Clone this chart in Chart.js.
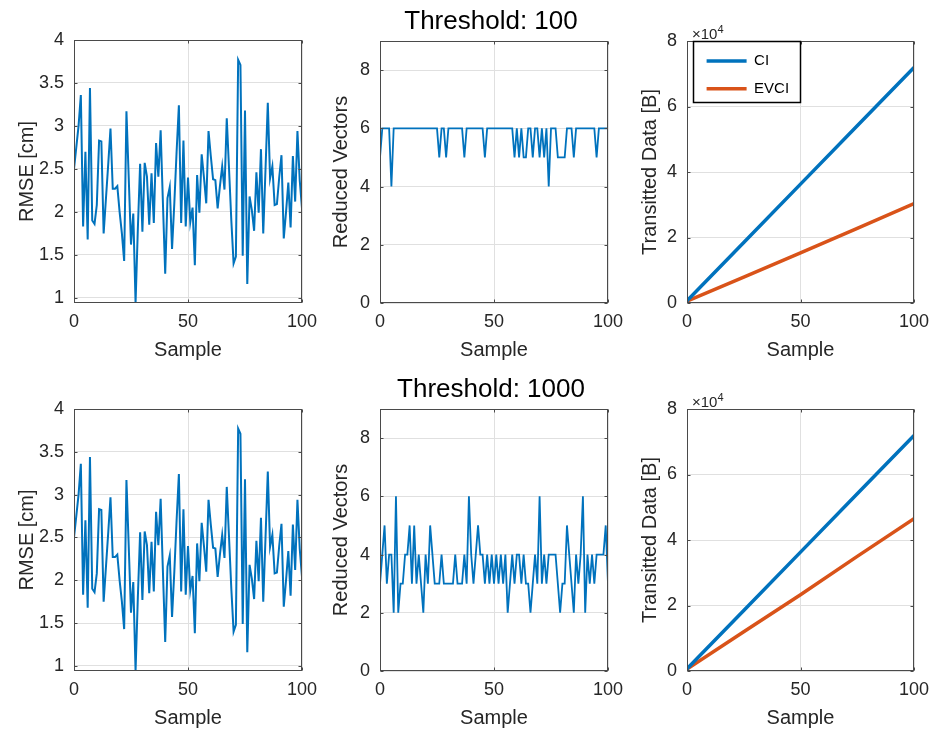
<!DOCTYPE html>
<html>
<head>
<meta charset="utf-8">
<script src="https://cdn.jsdelivr.net/npm/chart.js@4.4.0/dist/chart.umd.min.js"></script>
<style>
  body { margin: 0; background: #fff; }
  #wrap { position: relative; width: 932px; height: 733px; overflow: hidden;
          font-family: "Liberation Sans", Arial, Helvetica, sans-serif; }
  #wrap canvas { position: absolute; left: 0; top: 0; }
  .title { position: absolute; left: 341px; width: 300px; text-align: center;
           font-size: 26px; line-height: 30px; color: #000; }
  .expo { position: absolute; left: 692px; font-size: 15px; line-height: 18px; color: #262626; }
  .expo sup { font-size: 11px; }
</style>
</head>
<body>
<div id="wrap">
  <canvas id="rmseTop" width="932" height="733"></canvas>
  <canvas id="vecTop" width="932" height="733"></canvas>
  <canvas id="bytesTop" width="932" height="733"></canvas>
  <canvas id="rmseBottom" width="932" height="733"></canvas>
  <canvas id="vecBottom" width="932" height="733"></canvas>
  <canvas id="bytesBottom" width="932" height="733"></canvas>
  <div class="title" style="top:5px;">Threshold: 100</div>
  <div class="title" style="top:373px;">Threshold: 1000</div>
  <div class="expo" style="top:20px;">&times;10<sup>4</sup></div>
  <div class="expo" style="top:388px;">&times;10<sup>4</sup></div>
</div>
<script>
// tick labels
const sampleTicks = [0, 50, 100];
const rmseTicks = [1, 1.5, 2, 2.5, 3, 3.5, 4];
const vectorTicks = [0, 2, 4, 6, 8];
const bytesTicks = [0, 20000, 40000, 60000, 80000];

// RMSE per sample (same run in both rows)
const rmse = [
  2.50, 2.75, 3.00, 3.36, 1.83, 2.70, 1.68, 3.44, 1.90, 1.86,
  2.08, 2.83, 2.82, 1.75, 2.15, 2.55, 2.97, 2.27, 2.27, 2.30,
  2.00, 1.75, 1.43, 3.17, 2.40, 1.62, 1.98, 0.94, 1.80, 2.56,
  1.77, 2.57, 2.41, 1.85, 2.45, 1.87, 2.80, 2.41, 2.95, 2.10,
  1.28, 2.16, 2.29, 1.57, 2.10, 2.70, 3.24, 1.87, 2.83, 1.83,
  2.40, 1.88, 2.05, 1.38, 2.43, 1.99, 2.67, 2.40, 2.10, 2.94,
  2.65, 2.38, 2.37, 2.04, 2.30, 2.53, 2.26, 3.09, 2.50, 1.90,
  1.40, 1.48, 3.77, 3.71, 1.49, 3.18, 1.16, 2.18, 2.02, 1.78,
  2.46, 1.99, 2.73, 1.75, 2.50, 3.27, 2.39, 2.53, 2.08, 2.09,
  2.40, 2.66, 1.69, 2.00, 2.34, 1.82, 2.65, 2.12, 2.94, 2.37,
  2.04
];

// reduced vectors, threshold 100
const vectors100 = [
  5, 6, 6, 6, 6, 4, 6, 6, 6, 6,
  6, 6, 6, 6, 6, 6, 6, 6, 6, 6,
  6, 6, 6, 6, 6, 6, 5, 6, 6, 5,
  6, 6, 6, 6, 6, 6, 6, 5, 6, 6,
  6, 6, 6, 6, 6, 6, 5, 6, 6, 6,
  6, 6, 6, 6, 6, 6, 6, 6, 6, 5,
  6, 5, 6, 5, 5, 6, 6, 5, 6, 6,
  5, 6, 5, 6, 4, 6, 6, 6, 5, 5,
  5, 5, 6, 6, 6, 5, 6, 6, 6, 6,
  6, 6, 6, 6, 6, 5, 6, 6, 6, 6,
  6
];

// reduced vectors, threshold 1000
const vectors1000 = [
  3, 4, 5, 3, 4, 4, 2, 6, 2, 3,
  3, 4, 4, 5, 3, 5, 3, 4, 3, 2,
  4, 3, 5, 4, 3, 3, 3, 4, 3, 3,
  3, 3, 3, 4, 3, 3, 3, 4, 3, 6,
  4, 3, 4, 5, 4, 4, 3, 4, 3, 4,
  3, 4, 3, 4, 3, 4, 2, 3, 4, 3,
  4, 4, 3, 4, 3, 3, 2, 3, 4, 3,
  6, 3, 4, 3, 4, 4, 4, 4, 3, 2,
  3, 3, 5, 4, 3, 2, 4, 3, 4, 6,
  2, 4, 3, 4, 3, 4, 4, 4, 4, 5,
  3
];

// transmitted data [B]
const bytesSamples = [0, 25, 50, 75, 100];
const ciBytes = [700, 18500, 36300, 54100, 71900];
const evci100Bytes = [600, 7900, 15300, 22800, 30350];
const evci1000Bytes = [600, 12000, 23300, 35000, 46500];

const FONT = "'Liberation Sans', Arial, Helvetica, sans-serif";
const TEXT = '#262626';
const BLUE = '#0072BD';
const ORANGE = '#D95319';
const GRID = '#e0e0e0';

function bySample(values) {
  return values.map((v, i) => ({ x: i, y: v }));
}
function pairs(xs, ys) {
  return xs.map((x, i) => ({ x: x, y: ys[i] }));
}

function setTicks(values) {
  return function (scale) { scale.ticks = values.map(v => ({ value: v })); };
}
function fixWidth(w) {
  return function (scale) { scale.width = w; scale.paddingTop = 0; scale.paddingBottom = 0; };
}
function fixHeight(h) {
  return function (scale) { scale.height = h; scale.paddingLeft = 0; scale.paddingRight = 0; };
}

// box round the axes plus the short inward ticks
const framePlugin = {
  id: 'frame',
  afterDraw(chart) {
    const { ctx, chartArea: a, scales } = chart;
    const l = Math.round(a.left) + 0.5, t = Math.round(a.top) + 0.5;
    const r = Math.round(a.right) - 0.5, b = Math.round(a.bottom) - 0.5;
    ctx.save();
    ctx.strokeStyle = '#4a4a4a';
    ctx.lineWidth = 1;
    ctx.strokeRect(l, t, r - l, b - t);
    ctx.beginPath();
    scales.x.ticks.forEach(tk => {
      const px = Math.round(scales.x.getPixelForValue(tk.value)) + 0.5;
      ctx.moveTo(px, b); ctx.lineTo(px, b - 3);
      ctx.moveTo(px, t); ctx.lineTo(px, t + 3);
    });
    scales.y.ticks.forEach(tk => {
      const py = Math.round(scales.y.getPixelForValue(tk.value)) + 0.5;
      ctx.moveTo(l, py); ctx.lineTo(l + 3, py);
      ctx.moveTo(r, py); ctx.lineTo(r - 3, py);
    });
    ctx.stroke();
    ctx.restore();
  }
};

// pin the legend to the top-left corner of the axes and draw its black box
const LEGEND_SHIFT = 7;
const legendBoxPlugin = {
  id: 'legendBox',
  beforeDraw(chart) {
    const lg = chart.legend;
    if (lg && lg.options.display) {
      const a = chart.chartArea;
      lg.left = a.left + LEGEND_SHIFT;
      lg.top = a.top;
      lg.right = a.right;
      lg.bottom = a.bottom;
    }
  },
  afterDraw(chart) {
    const lg = chart.legend;
    if (!lg || !lg.options.display) return;
    const a = chart.chartArea;
    const { ctx } = chart;
    ctx.save();
    ctx.strokeStyle = '#000';
    ctx.lineWidth = 1.5;
    ctx.strokeRect(Math.round(a.left) + 6.5, Math.round(a.top) + 0.5, 107, 61);
    ctx.restore();
  }
};

function makeChart(id, o) {
  return new Chart(document.getElementById(id), {
    type: 'line',
    data: { datasets: o.datasets },
    options: {
      responsive: false,
      animation: false,
      events: [],
      layout: { padding: o.padding },
      elements: { point: { radius: 0 }, line: { tension: 0 } },
      plugins: {
        legend: o.legend || { display: false },
        tooltip: { enabled: false }
      },
      scales: {
        x: {
          type: 'linear', min: 0, max: 100,
          afterBuildTicks: setTicks(sampleTicks),
          afterFit: fixHeight(59),
          grid: { color: GRID, drawTicks: false },
          border: { display: false },
          ticks: { color: TEXT, font: { family: FONT, size: 18 }, padding: 8, maxRotation: 0 },
          title: { display: true, text: 'Sample', color: TEXT, font: { family: FONT, size: 20 }, padding: 0 }
        },
        y: {
          type: 'linear', min: o.yMin, max: o.yMax,
          afterBuildTicks: setTicks(o.yTicks),
          afterFit: fixWidth(o.yWidth),
          grid: { color: GRID, drawTicks: false },
          border: { display: false },
          ticks: { color: TEXT, font: { family: FONT, size: 18 }, padding: 10,
                   callback: o.yFormat || (v => v) },
          title: { display: true, text: o.yTitle, color: TEXT, font: { family: FONT, size: 20 }, padding: 0 }
        }
      }
    },
    plugins: [framePlugin, legendBoxPlugin]
  });
}

function bytesLegend() {
  return {
    display: true,
    position: 'chartArea',
    align: 'start',
    labels: {
      color: '#000',
      font: { family: FONT, size: 15 },
      usePointStyle: true,
      pointStyle: 'line',
      pointStyleWidth: 40,
      padding: 12.6
    }
  };
}

function rmseChart(id, top) {
  makeChart(id, {
    padding: { left: 15, right: 630, top: top, bottom: top < 100 ? 371 : 3 },
    yMin: 0.94, yMax: 4, yTicks: rmseTicks, yWidth: 59, yTitle: 'RMSE [cm]',
    datasets: [{ data: bySample(rmse), borderColor: BLUE, borderWidth: 2 }]
  });
}

function vectorChart(id, top, series) {
  makeChart(id, {
    padding: { left: 329, right: 324, top: top, bottom: top < 100 ? 371 : 3 },
    yMin: 0, yMax: 9, yTicks: vectorTicks, yWidth: 51, yTitle: 'Reduced Vectors',
    datasets: [{ data: bySample(series), borderColor: BLUE, borderWidth: 1.8 }]
  });
}

function bytesChart(id, top, evci) {
  makeChart(id, {
    padding: { left: 638, right: 18, top: top, bottom: top < 100 ? 371 : 3 },
    yMin: 0, yMax: 80000, yTicks: bytesTicks, yWidth: 49, yTitle: 'Transitted Data [B]',
    yFormat: v => v / 10000,
    legend: top < 100 ? bytesLegend() : { display: false },
    datasets: [
      { label: 'CI', data: pairs(bytesSamples, ciBytes), borderColor: BLUE, backgroundColor: BLUE, borderWidth: 3.5 },
      { label: 'EVCI', data: pairs(bytesSamples, evci), borderColor: ORANGE, backgroundColor: ORANGE, borderWidth: 3.5 }
    ]
  });
}

rmseChart('rmseTop', 40);
vectorChart('vecTop', 41, vectors100);
bytesChart('bytesTop', 41, evci100Bytes);
rmseChart('rmseBottom', 409);
vectorChart('vecBottom', 409, vectors1000);
bytesChart('bytesBottom', 409, evci1000Bytes);
</script>
</body>
</html>
